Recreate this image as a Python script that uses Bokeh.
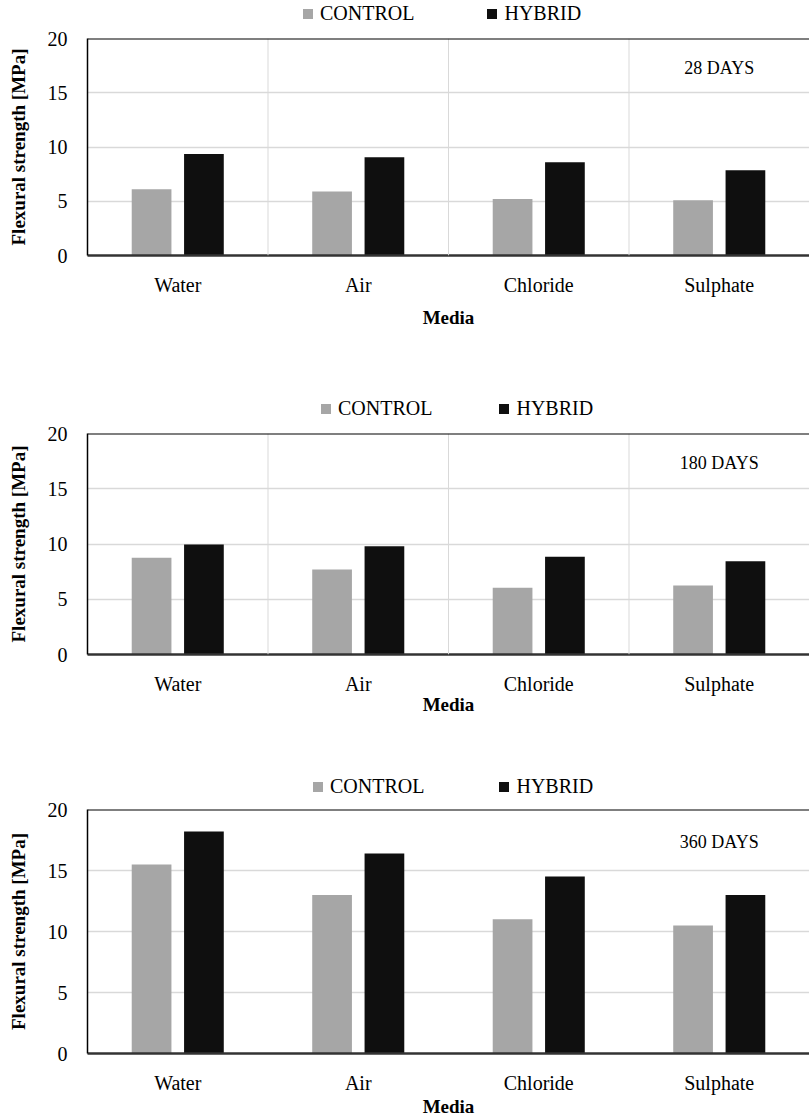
from bokeh.plotting import figure
from bokeh.models import (FactorRange, Range1d, FixedTicker, Span, Legend, LegendItem,
                          ColumnDataSource)
from bokeh.transform import dodge
from bokeh.layouts import column
from bokeh.core.properties import value
from bokeh.embed import file_html
from bokeh.resources import INLINE

categories = ["Water", "Air", "Chloride", "Sulphate"]
series_names = ["CONTROL", "HYBRID"]
control_28 = [6.1, 5.9, 5.2, 5.1]
hybrid_28 = [9.35, 9.05, 8.6, 7.85]
control_180 = [8.75, 7.7, 6.05, 6.25]
hybrid_180 = [9.95, 9.8, 8.85, 8.45]
control_360 = [15.5, 13.0, 11.0, 10.5]
hybrid_360 = [18.2, 16.4, 14.5, 13.0]
panel_labels = ["28 DAYS", "180 DAYS", "360 DAYS"]
y_ticks = [0, 5, 10, 15, 20]

FONT = "Liberation Serif"
GRAY = "#a6a6a6"
BLACK = "#0f0f0f"
W = 809
LEFT = 87


def make_legend(height, x, spacing):
    lf = figure(x_range=Range1d(0, 1), y_range=Range1d(0, 1), width=W, height=height,
                output_backend="svg", toolbar_location=None,
                x_axis_location=None, y_axis_location=None,
                min_border=0, min_border_left=LEFT, min_border_right=0,
                min_border_top=0, min_border_bottom=0)
    lf.grid.visible = False
    lf.outline_line_color = None
    # hidden proxy renderers, used only for the legend swatches
    lg1 = lf.scatter(x=[0], y=[0], marker="square", fill_color=GRAY, line_color=None,
                     visible=False)
    lg2 = lf.scatter(x=[0], y=[0], marker="square", fill_color=BLACK, line_color=None,
                     visible=False)
    legend = Legend(items=[LegendItem(label=series_names[0], renderers=[lg1]),
                           LegendItem(label=series_names[1], renderers=[lg2])],
                    location=(x, 0), orientation="horizontal",
                    glyph_width=25, glyph_height=25, label_standoff=-7,
                    spacing=spacing, padding=0, margin=0,
                    border_line_color=None, background_fill_alpha=0,
                    label_text_font=FONT, label_text_font_size="20px",
                    label_text_color="black", label_height=25)
    lf.add_layout(legend, "center")
    return lf


def make_panel(control, hybrid, label, height, top, bottom, vgrid, title_standoff):
    src = ColumnDataSource(dict(cat=categories, control=control, hybrid=hybrid))
    p = figure(x_range=FactorRange(*categories, range_padding=0),
               y_range=Range1d(0, 20), width=W, height=height,
               output_backend="svg", toolbar_location=None,
               min_border_top=top, min_border_bottom=bottom,
               min_border_left=LEFT, min_border_right=0)
    p.outline_line_color = None
    p.background_fill_color = "white"
    p.border_fill_color = "white"

    p.vbar(x=dodge("cat", -0.145, range=p.x_range), top="control", width=0.22,
           source=src, fill_color=GRAY, line_color=None)
    p.vbar(x=dodge("cat", 0.145, range=p.x_range), top="hybrid", width=0.22,
           source=src, fill_color=BLACK, line_color=None)

    # grids
    p.xgrid.grid_line_color = None
    p.ygrid.ticker = FixedTicker(ticks=y_ticks)
    p.ygrid.grid_line_color = "#d9d9d9"
    p.ygrid.grid_line_width = 1.5
    if vgrid:
        for loc in (1, 2, 3):
            p.add_layout(Span(location=loc, dimension="height",
                              line_color="#d9d9d9", line_width=1))
    p.add_layout(Span(location=20, dimension="width", line_color="black", line_width=2))

    # axes
    p.yaxis.ticker = FixedTicker(ticks=y_ticks)
    p.yaxis.axis_line_color = "black"
    p.yaxis.axis_line_width = 1.5
    p.yaxis.major_tick_line_color = None
    p.yaxis.minor_tick_line_color = None
    p.yaxis.major_label_text_font = FONT
    p.yaxis.major_label_text_font_size = "20px"
    p.yaxis.major_label_text_color = "black"
    p.yaxis.major_label_standoff = 14
    p.yaxis.axis_label = "Flexural strength [MPa]"
    p.yaxis.axis_label_text_font = FONT
    p.yaxis.axis_label_text_font_style = "bold"
    p.yaxis.axis_label_text_font_size = "19px"
    p.yaxis.axis_label_text_color = "black"
    p.yaxis.axis_label_standoff = 16

    p.xaxis.axis_line_color = "#333333"
    p.xaxis.axis_line_width = 2.5
    p.xaxis.major_tick_line_color = None
    p.xaxis.minor_tick_line_color = None
    p.xaxis.major_label_text_font = FONT
    p.xaxis.major_label_text_font_size = "20px"
    p.xaxis.major_label_text_color = "black"
    p.xaxis.major_label_standoff = 12
    p.xaxis.axis_label = "Media"
    p.xaxis.axis_label_text_font = FONT
    p.xaxis.axis_label_text_font_style = "bold"
    p.xaxis.axis_label_text_font_size = "19px"
    p.xaxis.axis_label_text_color = "black"
    p.xaxis.axis_label_standoff = title_standoff

    p.text(x=[categories[-1]], y=[17.3], text=[label], text_align="center",
           text_baseline="middle", text_font=value(FONT), text_font_size="18px",
           text_color="black")
    return p


l1 = make_legend(26, 208, 65)
f1 = make_panel(control_28, hybrid_28, panel_labels[0], 304, 12, 70, True, 8)
l2 = make_legend(91, 226, 59)
f2 = make_panel(control_180, hybrid_180, panel_labels[1], 299, 12, 66, True, -4)
l3 = make_legend(79, 218, 67)
f3 = make_panel(control_360, hybrid_360, panel_labels[2], 320, 10, 57, False, -1)

layout = column(l1, f1, l2, f2, l3, f3, spacing=0)
open("out.html", "w").write(file_html(layout, INLINE))
